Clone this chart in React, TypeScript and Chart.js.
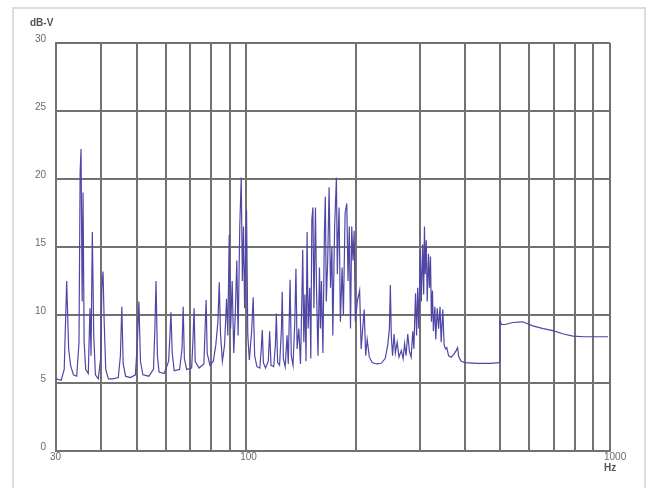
import { useEffect, useRef } from "react";
import { Chart, registerables } from "chart.js";

Chart.register(...registerables);

// Level axis (dB) and frequency grid (Hz, logarithmic)
const levelTicks = [0, 5, 10, 15, 20, 25, 30];
const freqGridHz = [30, 40, 50, 60, 70, 80, 90, 100, 200, 300, 400, 500, 600, 700, 800, 900, 1000];
const freqLabelHz = [30, 100, 1000];
const levelUnit = "dB-V";
const freqUnit = "Hz";

// Spectrum trace, [frequency Hz, level dB]
const lowBand: [number, number][] = [
  [30, 5.3], [31.0, 5.2], [31.6, 6.0], [32.1, 12.5], [32.5, 7.5], [32.9, 6.3], [33.5, 5.6],
  [34.2, 5.5], [34.7, 8.0], [34.95, 20.5], [35.15, 22.2], [35.4, 11.0], [35.6, 19.0], [35.85, 8.0],
  [36.2, 6.0], [36.8, 5.7], [37.2, 10.5], [37.45, 7.0], [37.75, 16.1], [38.1, 8.5], [38.5, 5.6],
  [39.2, 5.3], [39.8, 6.8], [40.1, 12.0], [40.4, 13.2], [40.7, 9.5], [41.1, 6.0], [41.8, 5.3],
  [43.0, 5.3], [44.5, 5.4], [45.1, 7.0], [45.5, 10.6], [45.9, 6.4], [46.6, 5.5], [48.0, 5.4],
  [49.6, 5.6], [50.2, 8.0], [50.7, 11.0], [51.2, 6.6], [52.0, 5.6], [54.0, 5.5], [55.6, 6.0],
  [56.1, 9.0], [56.5, 12.5], [57.0, 7.0], [57.6, 5.8], [59.5, 5.7], [61.2, 6.6], [61.7, 8.5],
  [62.1, 10.2], [62.6, 7.2], [63.4, 5.9], [65.6, 6.0], [66.6, 7.5], [67.1, 10.6], [67.6, 6.8],
  [68.6, 6.0], [70.8, 6.1], [71.4, 8.2], [71.9, 10.5], [72.4, 6.6], [74.2, 6.1], [76.5, 6.4],
  [77.2, 9.5], [77.6, 11.1], [78.1, 7.2], [79.5, 6.3], [81.2, 6.6], [82.5, 7.8], [83.6, 9.5],
  [84.3, 12.4], [85.0, 8.6], [86.0, 6.6], [87.2, 7.8], [88.3, 11.2], [89.0, 8.5], [89.8, 15.9],
  [90.6, 9.0], [91.5, 12.5], [92.4, 7.2], [93.3, 10.0], [94.2, 14.0], [95.0, 8.5], [96.0, 16.5],
  [96.9, 20.1], [97.6, 12.5], [98.3, 16.5], [99.0, 10.5], [99.6, 14.5], [100.2, 17.7], [101.0, 8.5],
  [102.0, 6.7], [103.5, 8.8], [104.5, 11.3], [105.5, 7.0],
];

const midBand: [number, number][] = [
  [107, 6.2], [109, 6.1], [110, 7.5], [110.7, 8.9], [111.5, 6.5], [113, 6.1], [115, 6.6], [116, 8.8],
  [117, 6.3], [119, 6.2], [120.3, 7.8], [121, 10.1], [122, 6.5], [123.5, 6.3], [125, 9.0],
  [125.6, 11.7], [126.5, 6.8], [128, 6.2], [129.5, 8.5], [130.5, 6.4], [131.5, 10.5], [132, 12.6],
  [133, 7.0], [134.5, 6.3], [136, 9.5], [137, 13.4], [138, 7.5], [139.5, 9.0], [141, 6.4],
  [142.2, 11.0], [143, 14.8], [144, 8.0], [145, 11.5], [146, 6.6], [147, 16.1], [148, 9.0],
  [149.5, 12.0], [150.5, 6.8], [151.5, 17.0], [152.5, 17.9], [153.5, 10.5], [155, 17.9], [156, 12.0],
  [157.5, 7.0], [159, 13.5], [160, 9.0], [161, 12.5], [162.5, 7.2], [164, 16.0], [165, 18.7],
  [166, 11.0], [167.5, 14.0], [169, 19.4], [170.5, 12.0], [172, 15.0], [173, 8.5], [175, 16.5],
  [177, 20.1], [178, 13.0], [179, 16.0], [180, 17.9], [181.5, 9.5], [183.5, 13.5], [185, 10.0],
  [187, 17.5], [189, 18.2], [190.5, 12.5], [192, 16.5], [193.5, 9.0], [195, 16.5], [196.5, 14.0],
  [198, 16.2], [199.5, 9.5], [202, 11.0], [205, 11.8], [207, 7.5], [209, 9.0], [211, 10.4],
  [213, 7.0], [215, 8.2],
];

const upperBand: [number, number][] = [
  [218, 6.9], [222, 6.5], [228, 6.4], [235, 6.45], [241, 6.8], [245, 7.8], [247.5, 9.0], [249, 12.2],
  [250.5, 8.5], [252.5, 7.0], [255, 8.6], [257, 7.2], [260, 8.0], [263, 6.9], [267, 7.4], [270, 6.8],
  [272.5, 7.9], [275, 7.0], [278, 8.6], [281, 7.3], [284, 6.9], [287, 8.8], [289, 7.5], [292, 11.6],
  [294, 8.5], [296, 12.0], [298, 9.0], [301, 14.8], [303, 11.0], [305.5, 15.2], [307.5, 11.5],
  [309, 16.5], [310.5, 13.0], [312.5, 15.5], [314.5, 11.0], [317, 14.5], [319, 12.0], [321, 14.3],
  [323, 9.5], [325, 11.8], [327, 8.8], [330, 10.6], [332, 8.2], [335, 10.5], [338, 9.0], [341, 10.6],
  [343.5, 8.0], [347, 10.4], [350, 7.8], [353, 7.5], [356, 7.6], [360, 7.0], [366, 6.9], [372, 7.1],
  [378, 7.4], [381, 7.6], [384, 6.9], [390, 6.6], [399, 6.5],
];

const highBand: [number, number][] = [
  [430, 6.45], [470, 6.45], [496, 6.5], [498, 9.6], [503, 9.3], [515, 9.3], [540, 9.45], [576, 9.5],
  [613, 9.2], [655, 9.0], [697, 8.85], [745, 8.6], [791, 8.45], [850, 8.4], [920, 8.4], [987, 8.4],
];

const GRID = "#727272";
const TEXT = "#6a6a6a";
const TRACE = "#5046a6";

const unitLabels = {
  id: "unitLabels",
  afterDraw(chart: Chart) {
    const { ctx, chartArea } = chart;
    ctx.save();
    ctx.fillStyle = "#555";
    ctx.font = "bold 10px 'Liberation Sans', Arial, sans-serif";
    ctx.textBaseline = "middle";
    ctx.textAlign = "left";
    ctx.fillText(levelUnit, chartArea.left - 26, chartArea.top - 20);
    ctx.fillText(freqUnit, chartArea.right - 6, chartArea.bottom + 17);
    ctx.restore();
  },
};

export default function App() {
  const canvasRef = useRef<HTMLCanvasElement | null>(null);

  useEffect(() => {
    const canvas = canvasRef.current;
    if (!canvas) return;
    const points = [...lowBand, ...midBand, ...upperBand, ...highBand].map(([x, y]) => ({ x, y }));
    const font = { family: "'Liberation Sans', Arial, sans-serif", size: 10 };

    const chart = new Chart(canvas, {
      type: "line",
      data: {
        datasets: [
          {
            data: points,
            borderColor: TRACE,
            borderWidth: 1.2,
            pointRadius: 0,
            tension: 0,
            fill: false,
          },
        ],
      },
      options: {
        animation: false,
        responsive: false,
        maintainAspectRatio: false,
        layout: { padding: { top: 43, right: 38, left: 0, bottom: 0 } },
        plugins: { legend: { display: false }, tooltip: { enabled: false } },
        scales: {
          x: {
            type: "logarithmic",
            min: freqGridHz[0],
            max: freqGridHz[freqGridHz.length - 1],
            afterBuildTicks: (scale: any) => {
              scale.ticks = freqGridHz.map((value) => ({ value }));
            },
            afterFit: (scale: any) => {
              scale.height = 37;
            },
            grid: { color: GRID, lineWidth: 2, drawTicks: false },
            border: { display: true, color: GRID, width: 2 },
            ticks: {
              autoSkip: false,
              maxRotation: 0,
              align: "start",
              labelOffset: -6,
              padding: 0,
              color: TEXT,
              font,
              callback: (value: any) => (freqLabelHz.includes(Number(value)) ? String(value) : ""),
            },
          },
          y: {
            type: "linear",
            min: levelTicks[0],
            max: levelTicks[levelTicks.length - 1],
            afterBuildTicks: (scale: any) => {
              scale.ticks = levelTicks.map((value) => ({ value }));
            },
            afterFit: (scale: any) => {
              scale.width = 56;
            },
            grid: { color: GRID, lineWidth: 2, drawTicks: false },
            border: { display: true, color: GRID, width: 2 },
            ticks: {
              padding: 10,
              labelOffset: -4,
              color: TEXT,
              font,
            },
          },
        },
      },
      plugins: [unitLabels],
    });

    return () => chart.destroy();
  }, []);

  return (
    <div style={{ position: "fixed", left: 0, top: 0, width: 648, height: 488, background: "#fff", overflow: "hidden" }}>
      <div
        style={{
          position: "absolute",
          left: 12,
          top: 7,
          width: 630,
          height: 500,
          border: "2px solid #d9dde2",
        }}
      />
      <canvas ref={canvasRef} width={648} height={488} style={{ position: "absolute", left: 0, top: 0 }} />
    </div>
  );
}
